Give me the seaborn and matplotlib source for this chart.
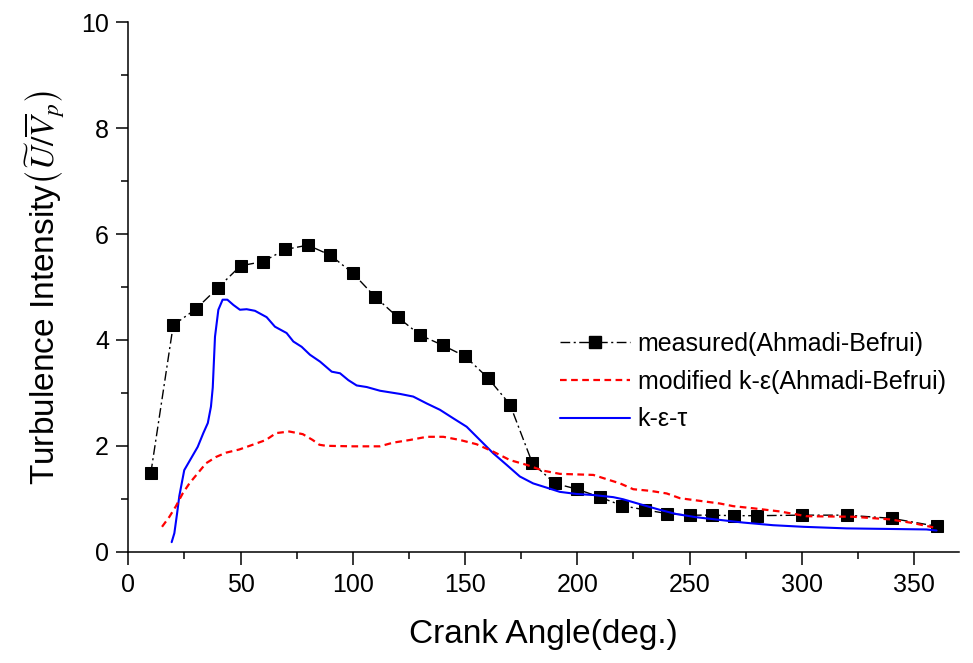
import matplotlib
matplotlib.use("Agg")
import matplotlib.pyplot as plt
import seaborn as sns
import pandas as pd
from matplotlib.ticker import MultipleLocator
from matplotlib.lines import Line2D

# measured (Ahmadi-Befrui)
meas_x = [10, 20, 30, 40, 50, 60, 70, 80, 90, 100, 110, 120, 130, 140, 150, 160,
          170, 180, 190, 200, 210, 220, 230, 240, 250, 260, 270, 280, 300, 320, 340, 360]
meas_y = [1.48, 4.28, 4.58, 4.99, 5.40, 5.48, 5.71, 5.79, 5.60, 5.26, 4.81, 4.43,
          4.09, 3.90, 3.69, 3.29, 2.78, 1.67, 1.29, 1.18, 1.03, 0.87, 0.79, 0.72,
          0.69, 0.69, 0.68, 0.68, 0.69, 0.69, 0.63, 0.48]

# modified k-eps (Ahmadi-Befrui)
mod_x = [15.0, 18.3, 21.2, 24.2, 27.2, 30.9, 34.6, 39.1, 43.5, 49.4, 55.4, 61.3,
         65.8, 71.7, 77.7, 82.1, 85.1, 88.0, 100, 112, 118, 125.4, 132.9, 140.3,
         147.7, 155.1, 162.5, 170, 177.4, 184.8, 192.2, 207.1, 214.5, 219, 224.9,
         232.3, 239.8, 245.7, 254.6, 263.5, 269.4, 278.3, 290.2, 302, 322.8, 339.2,
         349.6, 358.5]
mod_y = [0.47, 0.66, 0.86, 1.10, 1.29, 1.48, 1.67, 1.79, 1.87, 1.93, 2.02, 2.11,
         2.24, 2.27, 2.22, 2.11, 2.02, 2.00, 1.99, 1.99, 2.06, 2.11, 2.17, 2.17,
         2.11, 2.03, 1.89, 1.73, 1.64, 1.53, 1.47, 1.45, 1.35, 1.29, 1.18,
         1.15, 1.10, 1.01, 0.96, 0.91, 0.86, 0.82, 0.76, 0.67, 0.66, 0.61,
         0.54, 0.46]

# k-eps-tau
ket_x = [19.3, 20.5, 21.8, 22.7, 24.9, 27.9, 30.9, 33.4, 35.4, 36.8, 37.6, 38.6,
         40.1, 42.0, 44.1, 46.8, 49.7, 52.7, 56.4, 61.6, 65.3, 70.5, 73.5, 77.2,
         80.9, 85.4, 90.6, 94.3, 98.0, 101.7, 106.2, 112.1, 121, 126.9, 132.9,
         138.8, 144.7, 150.7, 156.6, 162.5, 168.5, 174.4, 180.3, 186.3, 192.2,
         199.7, 207.1, 216, 220.4, 229.3, 236.8, 244.2, 253.1, 263.5, 273.9,
         287.2, 300.6, 319.9, 355.5, 360]
ket_y = [0.18, 0.35, 0.75, 1.05, 1.54, 1.76, 1.98, 2.24, 2.43, 2.74, 3.10, 4.06,
         4.57, 4.76, 4.76, 4.66, 4.57, 4.58, 4.55, 4.43, 4.25, 4.13, 3.97, 3.87,
         3.72, 3.59, 3.40, 3.37, 3.24, 3.14, 3.11, 3.04, 2.98, 2.93, 2.80,
         2.68, 2.52, 2.36, 2.11, 1.86, 1.64, 1.42, 1.29, 1.21, 1.13,
         1.09, 1.07, 1.03, 0.99, 0.88, 0.79, 0.71, 0.65, 0.60, 0.55,
         0.50, 0.47, 0.44, 0.42, 0.40]

labels = ["measured(Ahmadi-Befrui)", "modified k-\u03b5(Ahmadi-Befrui)", "k-\u03b5-\u03c4"]

sns.set_theme(style="ticks")
plt.rcParams["font.family"] = ["Liberation Sans", "DejaVu Sans"]
plt.rcParams["mathtext.fontset"] = "stix"
plt.rcParams["text.color"] = "black"
plt.rcParams["axes.labelcolor"] = "black"

fig = plt.figure(figsize=(9.73, 6.63), dpi=100)
ax = fig.add_axes([0.1319, 0.1679, 0.8537, 0.7985])

df_meas = pd.DataFrame({"x": meas_x, "y": meas_y})
df_mod = pd.DataFrame({"x": mod_x, "y": mod_y})
df_ket = pd.DataFrame({"x": ket_x, "y": ket_y})

sns.lineplot(data=df_meas, x="x", y="y", ax=ax, color="black", lw=1.0,
             dashes=False, marker="s", markersize=8, markeredgecolor="black",
             estimator=None, zorder=3)
ax.lines[-1].set_dashes((7, 2.5, 1.5, 2.5))
sns.lineplot(data=df_ket, x="x", y="y", ax=ax, color="#0000ff", lw=1.5,
             estimator=None, zorder=4)
sns.lineplot(data=df_mod, x="x", y="y", ax=ax, color="#ff0000", lw=1.6,
             estimator=None, zorder=5)
ax.lines[-1].set_dashes((3, 2))

ax.set_xlim(0, 370)
ax.set_ylim(0, 10)
ax.xaxis.set_major_locator(MultipleLocator(50))
ax.xaxis.set_minor_locator(MultipleLocator(25))
ax.yaxis.set_major_locator(MultipleLocator(2))
ax.yaxis.set_minor_locator(MultipleLocator(1))
ax.tick_params(which="major", direction="out", length=9, width=1.1,
               labelsize=18, color="black", labelcolor="black")
ax.tick_params(which="minor", direction="out", length=5, width=1.1, color="black")
ax.tick_params(axis="x", pad=6)
ax.tick_params(axis="y", pad=5)
sns.despine(ax=ax)
for s in ["left", "bottom"]:
    ax.spines[s].set_color("black")
    ax.spines[s].set_linewidth(1.1)

ax.set_xlabel("Crank Angle(deg.)", fontsize=24, labelpad=16)
ax.set_ylabel(r"Turbulence Intensity$\left(\widetilde{U}/\overline{V}_{p}\right)$",
              fontsize=24, labelpad=10)

h1 = Line2D([], [], color="black", lw=1.0, marker="s", markersize=8,
            dashes=(7, 2.5, 1.5, 2.5))
h2 = Line2D([], [], color="#ff0000", lw=1.6, dashes=(3, 2))
h3 = Line2D([], [], color="#0000ff", lw=1.5)
ax.legend([h1, h2, h3], labels, loc="upper left", bbox_to_anchor=(0.52, 0.415),
          frameon=False, fontsize=18, handlelength=2.8, handletextpad=0.3,
          labelspacing=0.55, borderpad=0, borderaxespad=0, labelcolor="black")

fig.savefig("out.png", dpi=100)
